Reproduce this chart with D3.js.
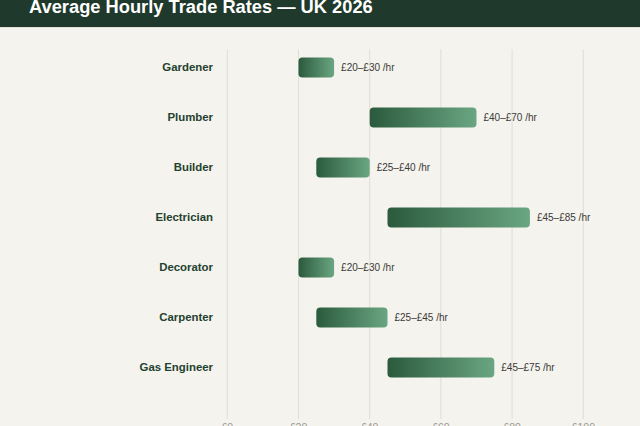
<!DOCTYPE html>
<html>
<head>
<meta charset="utf-8">
<script src="https://cdn.jsdelivr.net/npm/d3@7"></script>
<style>
  body { margin: 0; background: #f5f3ee; font-family: "Liberation Sans", Arial, sans-serif; overflow: hidden; }
  .header { background: #1f3a2c; height: 27px; position: relative; border-bottom: 1px solid #e4e0d6; }
  .header h1 { margin: 0; position: absolute; left: 29px; top: -3px; line-height: 20px; color: #fff; font-size: 18.3px; font-weight: 700; }
  svg { display: block; }
</style>
</head>
<body>
<div class="header"><h1>Average Hourly Trade Rates — UK 2026</h1></div>
<svg id="chart" width="640" height="398"></svg>
<script>
var trades = ["Gardener", "Plumber", "Builder", "Electrician", "Decorator", "Carpenter", "Gas Engineer"];
var lowRates = [20, 40, 25, 45, 20, 25, 45];
var highRates = [30, 70, 40, 85, 30, 45, 75];
var tickValues = [0, 20, 40, 60, 80, 100];

var svg = d3.select("#chart");
var top0 = 28; // svg starts below header

var x = d3.scaleLinear()
    .domain([0, 100])
    .range([227.3, 583.3]);

var y = d3.scaleBand()
    .domain(trades)
    .range([42.5 - top0, 392.5 - top0])
    .paddingInner(0.6)
    .paddingOuter(0.3);

// gradient for bars
var defs = svg.append("defs");
var grad = defs.append("linearGradient")
    .attr("id", "barGrad")
    .attr("x1", "0%").attr("x2", "100%")
    .attr("y1", "0%").attr("y2", "0%");
grad.append("stop").attr("offset", "0%").attr("stop-color", "#2b5a3d");
grad.append("stop").attr("offset", "100%").attr("stop-color", "#6aa682");

// gridlines
svg.append("g")
    .selectAll("line")
    .data(tickValues)
    .enter().append("line")
    .attr("x1", function (d) { return x(d); })
    .attr("x2", function (d) { return x(d); })
    .attr("y1", 49.5 - top0)
    .attr("y2", 419 - top0)
    .style("stroke", "#e0ddd5")
    .style("stroke-width", 1);

// axis tick labels
svg.append("g")
    .selectAll("text")
    .data(tickValues)
    .enter().append("text")
    .attr("x", function (d) { return x(d); })
    .attr("y", 431 - top0)
    .attr("text-anchor", "middle")
    .style("font-size", "10.5px")
    .style("fill", "#9a9a90")
    .text(function (d) { return "£" + d; });

// trade labels
svg.append("g")
    .selectAll("text")
    .data(trades)
    .enter().append("text")
    .attr("x", 213)
    .attr("y", function (d) { return y(d) + y.bandwidth() / 2; })
    .attr("dy", "0.3em")
    .attr("text-anchor", "end")
    .style("font-size", "11.4px")
    .style("font-weight", "700")
    .style("fill", "#23412f")
    .text(function (d) { return d; });

// bars
svg.append("g")
    .selectAll("rect")
    .data(trades)
    .enter().append("rect")
    .attr("x", function (d, i) { return x(lowRates[i]); })
    .attr("y", function (d) { return y(d); })
    .attr("width", function (d, i) { return x(highRates[i]) - x(lowRates[i]); })
    .attr("height", y.bandwidth())
    .attr("rx", 4)
    .style("fill", "url(#barGrad)");

// value labels
svg.append("g")
    .selectAll("text")
    .data(trades)
    .enter().append("text")
    .attr("x", function (d, i) { return x(highRates[i]) + 7; })
    .attr("y", function (d) { return y(d) + y.bandwidth() / 2; })
    .attr("dy", "0.35em")
    .style("font-size", "10px")
    .style("fill", "#3a3a36")
    .text(function (d, i) { return "£" + lowRates[i] + "–£" + highRates[i] + " /hr"; });
</script>
</body>
</html>
